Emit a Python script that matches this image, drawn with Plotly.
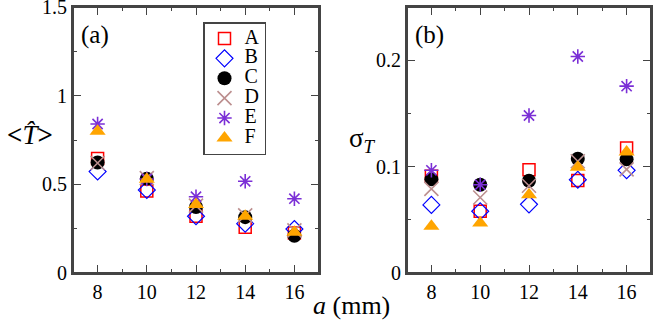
import plotly.graph_objects as go
from plotly.subplots import make_subplots

# plate spacing a (mm)
a_mm = [8, 10, 12, 14, 16]
series = ['A', 'B', 'C', 'D', 'E', 'F']

# panel (a): mean normalised T
t_mean = {
    'A': [0.645, 0.462, 0.32, 0.258, 0.225],
    'B': [0.572, 0.468, 0.32, 0.278, 0.248],
    'C': [0.623, 0.532, 0.372, 0.315, 0.21],
    'D': [0.62, 0.535, 0.38, 0.325, 0.24],
    'E': [0.84, 0.53, 0.43, 0.517, 0.419],
    'F': [0.80, 0.528, 0.386, 0.32, 0.23],
}

# panel (b): sigma_T
sigma_t = {
    'A': [0.091, 0.058, 0.097, 0.087, 0.1175],
    'B': [0.064, 0.058, 0.0645, 0.0876, 0.0965],
    'C': [0.088, 0.083, 0.0867, 0.1074, 0.1068],
    'D': [0.079, 0.071, 0.082, 0.105, 0.0974],
    'E': [0.0965, 0.083, 0.148, 0.2035, 0.1756],
    'F': [0.044, 0.047, 0.0736, 0.0994, 0.1137],
}

styles = {
    'A': dict(symbol='square-open', size=12, color='#ff0000', line=dict(width=1.5, color='#ff0000')),
    'B': dict(symbol='diamond-open', size=13, color='#0000ff', line=dict(width=1.2, color='#0000ff')),
    'C': dict(symbol='circle', size=14, color='#000000', line=dict(width=0)),
    'D': dict(symbol='x-thin-open', size=14, color='#bc8f8f', line=dict(width=1.6, color='#bc8f8f')),
    'E': dict(symbol='asterisk-open', size=12, color='#7b2fd6', line=dict(width=1.6, color='#7b2fd6')),
    'F': dict(symbol='triangle-up', size=14, color='#ffa500', line=dict(width=0)),
}

W, H = 654, 326
FONT = 'Liberation Serif, Times New Roman, serif'
LINE = '#444444'

fig = make_subplots(rows=1, cols=2)

for s in series:
    fig.add_trace(go.Scatter(x=a_mm, y=t_mean[s], mode='markers',
                             name='<span style="font-size:20px">%s</span>' % s,
                             marker=styles[s]), row=1, col=1)
for s in series:
    fig.add_trace(go.Scatter(x=a_mm, y=sigma_t[s], mode='markers', name=s,
                             marker=styles[s], showlegend=False), row=1, col=2)

frame = dict(showgrid=False, zeroline=False, showline=True, linecolor=LINE, linewidth=2,
             mirror='ticks', ticks='inside', ticklen=8, tickwidth=1.3, tickcolor=LINE,
             ticklabeloverflow='allow', automargin=False,
             tickfont=dict(family=FONT, size=20, color='black'))
minor = dict(ticks='inside', ticklen=4, tickwidth=1.3, tickcolor=LINE, showgrid=False)

fig.update_xaxes(range=[7, 17], tick0=8, dtick=2, minor=dict(dtick=1, **minor), **frame)
fig.update_xaxes(domain=[73 / W, 319 / W], row=1, col=1)
fig.update_xaxes(domain=[407 / W, 651 / W], row=1, col=2)

fig.update_yaxes(domain=[(H - 273) / H, (H - 7) / H], **frame)
fig.update_yaxes(range=[0, 1.5], dtick=0.5, minor=dict(dtick=0.25, **minor), row=1, col=1)
fig.update_yaxes(range=[0, 0.25], dtick=0.1, minor=dict(dtick=0.05, **minor), row=1, col=2)

# plot frames
for xr, yr in [('x domain', 'y domain'), ('x2 domain', 'y2 domain')]:
    fig.add_shape(type='rect', xref=xr, yref=yr, x0=0, x1=1, y0=0, y1=1,
                  line=dict(color=LINE, width=2), layer='above')

fig.update_layout(
    template='none',
    width=W, height=H,
    margin=dict(l=0, r=0, t=0, b=0, autoexpand=False),
    plot_bgcolor='white', paper_bgcolor='white',
    font=dict(family=FONT, color='black'),
    showlegend=True,
    legend=dict(x=203 / W, y=1 - 22 / H, xanchor='left', yanchor='top',
                bordercolor=LINE, borderwidth=1.5, bgcolor='white',
                font=dict(family=FONT, size=13)),
    annotations=[
        dict(text='(a)', x=79 / W, y=1 - 35 / H, xref='paper', yref='paper',
             xanchor='left', yanchor='middle', showarrow=False, font=dict(size=25)),
        dict(text='(b)', x=413 / W, y=1 - 35 / H, xref='paper', yref='paper',
             xanchor='left', yanchor='middle', showarrow=False, font=dict(size=25)),
        dict(text='<b>&lt;</b><i>T\u0302</i><b>&gt;</b>', x=30 / W, y=1 - 135 / H,
             xref='paper', yref='paper', xanchor='center', yanchor='middle',
             showarrow=False, font=dict(size=27)),
        dict(text='σ<sub><i>T</i></sub>', x=362 / W, y=1 - 140 / H, xref='paper', yref='paper',
             xanchor='center', yanchor='middle', showarrow=False, font=dict(size=27)),
        dict(text='<i>a</i> (mm)', x=351 / W, y=1 - 305 / H, xref='paper', yref='paper',
             xanchor='center', yanchor='middle', showarrow=False, font=dict(size=26)),
    ],
)

page_css = ("document.documentElement.style.margin='0px';"
            "document.body.style.margin='0px';"
            "document.documentElement.style.overflow='hidden';"
            "document.body.style.overflow='hidden';")

fig.write_html("out.html", config={'displayModeBar': False}, post_script=page_css)
